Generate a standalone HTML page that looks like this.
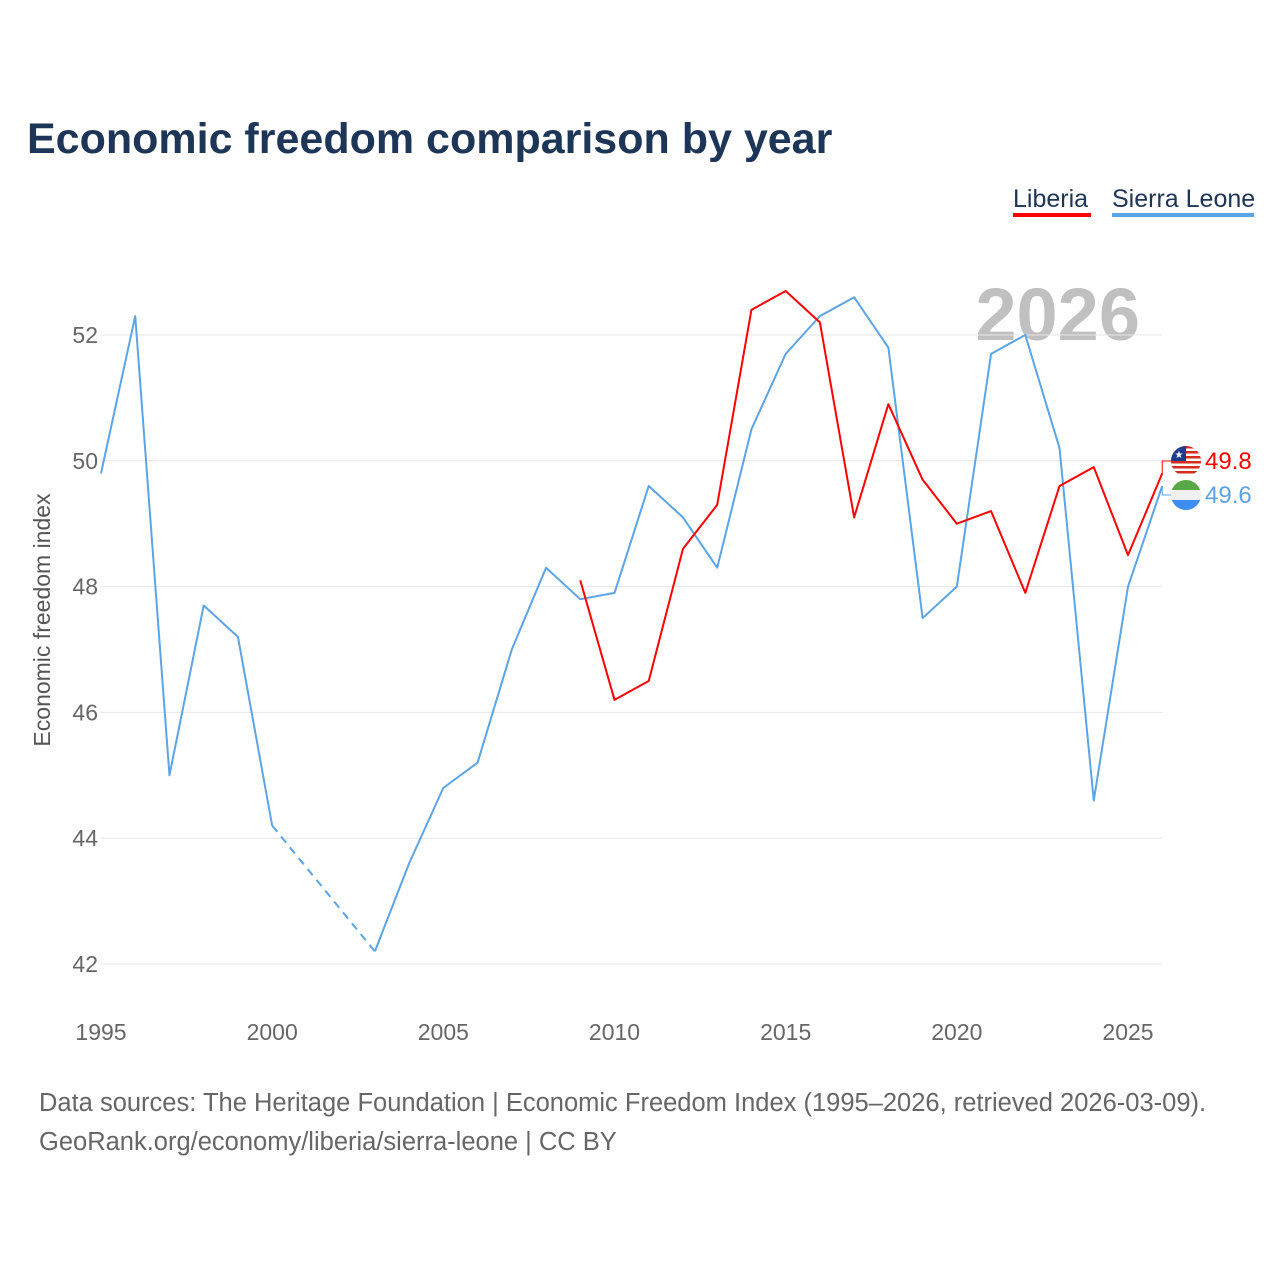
<!DOCTYPE html>
<html><head><meta charset="utf-8">
<style>
body{margin:0;background:#fff;font-family:"Liberation Sans",sans-serif;}
#wrap{position:relative;width:1280px;height:1280px;overflow:hidden;}
</style></head>
<body>
<div id="wrap">
<svg id="chart" width="1280" height="1280" xmlns="http://www.w3.org/2000/svg">
<defs>
<clipPath id="clipLr"><circle cx="1186" cy="461" r="15"/></clipPath>
<clipPath id="clipSl"><circle cx="1186" cy="495" r="15"/></clipPath>
</defs>
<text x="27" y="153" font-size="43" font-weight="bold" fill="#1d3557">Economic freedom comparison by year</text>
<g>
<text x="1013" y="207" font-size="25" fill="#1d3557">Liberia</text>
<rect x="1013" y="213" width="78" height="4" fill="#ff0000"/>
</g>
<g>
<text x="1112" y="207" font-size="25" fill="#1d3557">Sierra Leone</text>
<rect x="1112" y="213" width="142" height="4" fill="#5ba4e6"/>
</g>
<text x="1140" y="340" font-size="74" font-weight="bold" fill="#c0c0c0" text-anchor="end">2026</text>
<g id="grid"></g>
<g id="yticks"></g>
<g id="xticks"></g>
<text transform="translate(50,620) rotate(-90)" font-size="23" fill="#555" text-anchor="middle">Economic freedom index</text>
<g id="series"></g>
<text x="39" y="1111" font-size="25.5" fill="#666">Data sources: The Heritage Foundation | Economic Freedom Index (1995–2026, retrieved 2026-03-09).</text>
<text x="39" y="1150" font-size="25.5" fill="#666">GeoRank.org/economy/liberia/sierra-leone | CC BY</text>
</svg>
</div>
<script>
const slYears = [1995,1996,1997,1998,1999,2000,2003,2004,2005,2006,2007,2008,2009,2010,2011,2012,2013,2014,2015,2016,2017,2018,2019,2020,2021,2022,2023,2024,2025,2026];
const slValues = [49.8,52.3,45.0,47.7,47.2,44.2,42.2,43.6,44.8,45.2,47.0,48.3,47.8,47.9,49.6,49.1,48.3,50.5,51.7,52.3,52.6,51.8,47.5,48.0,51.7,52.0,50.2,44.6,48.0,49.6];
const lbYears = [2009,2010,2011,2012,2013,2014,2015,2016,2017,2018,2019,2020,2021,2022,2023,2024,2025,2026];
const lbValues = [48.1,46.2,46.5,48.6,49.3,52.4,52.7,52.2,49.1,50.9,49.7,49.0,49.2,47.9,49.6,49.9,48.5,49.8];
const yTicks = [42,44,46,48,50,52];
const xTicks = [1995,2000,2005,2010,2015,2020,2025];

const NS="http://www.w3.org/2000/svg";
const X = yr => 101 + (yr-1995)*(1027/30);
const Y = v => 964 - (v-42)*62.9;
function mk(tag, attrs, parent){const e=document.createElementNS(NS,tag);for(const k in attrs)e.setAttribute(k,attrs[k]);parent.appendChild(e);return e;}
const grid=document.getElementById('grid'), yt=document.getElementById('yticks'), xt=document.getElementById('xticks'), ser=document.getElementById('series');
yTicks.forEach(t=>{
  const l=mk('line',{x1:101,x2:1162,y1:Y(t),y2:Y(t),stroke:'#e6e6e6','stroke-width':1},grid);
  
  
  const tx=mk('text',{x:98,y:Y(t)+8,'font-size':23,fill:'#666','text-anchor':'end'},yt);
  tx.textContent=t;
  
  
});
xTicks.forEach(t=>{
  const tx=mk('text',{x:X(t),y:1040,'font-size':23,fill:'#666','text-anchor':'middle'},xt);
  tx.textContent=t;
  
  
});
function drawSeries(years, vals, color, name){
  let seg=[], solid=[];
  for(let i=0;i<years.length;i++){
    if(i>0 && years[i]-years[i-1]>1){
      solid.push(seg); seg=[];
      const d=mk('line',{x1:X(years[i-1]),y1:Y(vals[i-1]),x2:X(years[i]),y2:Y(vals[i]),stroke:color,'stroke-width':2,'stroke-dasharray':'8,6'},ser);
      
      
    }
    seg.push(X(years[i])+','+Y(vals[i]));
  }
  solid.push(seg);
  solid.forEach(s=>{
    const p=mk('polyline',{points:s.join(' '),fill:'none',stroke:color,'stroke-width':2,'stroke-linejoin':'round'},ser);
    
    
  });
}
drawSeries(slYears,slValues,'#5ba4e6','sierra-leone');
drawSeries(lbYears,lbValues,'#ff0000','liberia');
function endLabel(vals,color,name,ly,flag){
  const v=vals[vals.length-1], ex=X(2026), ey=Y(v);
  const c=mk('path',{d:`M${ex} ${ey} L${ex} ${ly} L${ex+10} ${ly}`,fill:'none',stroke:color,'stroke-width':1},ser);
  
  
  const g=mk('g',{'clip-path':flag==='lr'?'url(#clipLr)':'url(#clipSl)'},ser);
  
  
  const cx=1186, r=15;
  if(flag==='lr'){
    mk('rect',{x:cx-r,y:ly-r,width:2*r,height:2*r,fill:'#fff'},g);
    for(let i=0;i<6;i++) mk('rect',{x:cx-r,y:ly-r+i*5,width:2*r,height:2.5,fill:'#d52b1e'},g);
    mk('rect',{x:cx-r,y:ly-r,width:r,height:r,fill:'#1d3c8f'},g);
    mk('text',{x:cx-7,y:ly-3,'font-size':10,fill:'#fff','text-anchor':'middle'},g).textContent='★';
  } else {
    mk('rect',{x:cx-r,y:ly-r,width:2*r,height:10,fill:'#5aa845'},g);
    mk('rect',{x:cx-r,y:ly-5,width:2*r,height:10,fill:'#f0f0f0'},g);
    mk('rect',{x:cx-r,y:ly+5,width:2*r,height:10,fill:'#3d8ef0'},g);
  }
  const t=mk('text',{x:1205,y:ly+8,'font-size':24,fill:color},ser);
  t.textContent=v.toFixed(1);
  
  
}
endLabel(lbValues,'#ff0000','liberia',461,'lr');
endLabel(slValues,'#5ba4e6','sierra-leone',495,'sl');
</script>
</body></html>
